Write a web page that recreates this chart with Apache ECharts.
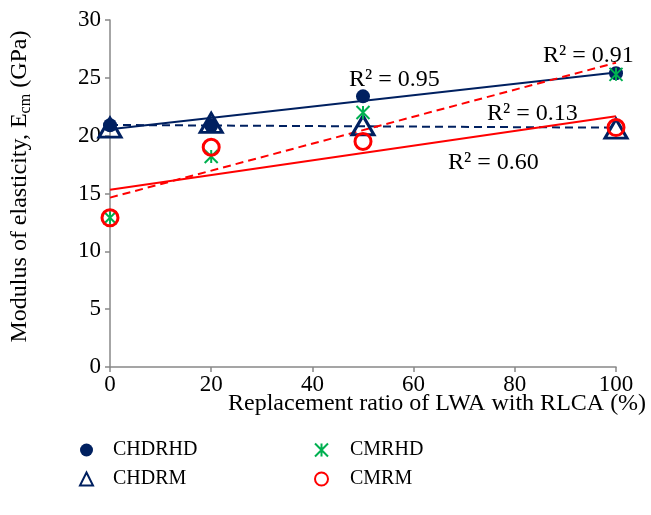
<!DOCTYPE html>
<html>
<head>
<meta charset="utf-8">
<script src="https://cdn.jsdelivr.net/npm/echarts@6/dist/echarts.min.js"></script>
<style>
  html, body { margin: 0; padding: 0; background: #fff; }
  #chart { width: 651px; height: 515px; }
</style>
</head>
<body>
<div id="chart"></div>
<script>
// replacement ratio (%)
const ratios = [0, 20, 50, 100]
// modulus of elasticity (GPa)
const chdrhd = [20.9, 20.85, 23.4, 25.4]
const chdrm = [20.7, 21.1, 20.9, 20.6]
const cmrhd = [12.9, 18.2, 22.0, 25.3]
const cmrm = [12.9, 19.0, 19.5, 20.7]
const r2Labels = ['R² = 0.95', 'R² = 0.13', 'R² = 0.91', 'R² = 0.60']
const xTicks = [0, 20, 40, 60, 80, 100]
const yTicks = [0, 5, 10, 15, 20, 25, 30]

const FONT = '"Liberation Serif", "Times New Roman", serif'
const NAVY = '#002060'
const RED = '#FF0000'
const GREEN = '#00B050'

// least squares trendline, evaluated at the axis ends
const trend = (xs, ys) => {
  const n = xs.length
  const mx = xs.reduce((a, b) => a + b, 0) / n
  const my = ys.reduce((a, b) => a + b, 0) / n
  let sxy = 0, sxx = 0
  xs.forEach((x, i) => { sxy += (x - mx) * (ys[i] - my); sxx += (x - mx) * (x - mx) })
  const k = sxy / sxx
  const b = my - k * mx
  const x0 = xTicks[0], x1 = xTicks[xTicks.length - 1]
  return [[x0, b + k * x0], [x1, b + k * x1]]
}
const pts = ys => ratios.map((x, i) => [x, ys[i]])

const chart = echarts.init(document.getElementById('chart'))

const trendSeries = (name, ys, color, dashed) => ({
  name: name,
  type: 'line',
  data: trend(ratios, ys),
  showSymbol: false,
  silent: true,
  z: 1,
  lineStyle: { color: color, width: 2, type: dashed ? [8, 5] : 'solid' }
})

const asterisk = 'path://M0,0L10,10M10,0L0,10M5,0L5,10'
const plainText = (text, left, top) => ({
  type: 'text', left: left, top: top,
  style: { text: text, font: '24px ' + FONT, fill: '#000' }
})

const legendBox = (names, left, pad) => ({
  data: names,
  orient: 'vertical',
  left: left,
  top: 435,
  itemGap: 9,
  itemWidth: 13,
  itemHeight: 13,
  textStyle: { fontSize: 20, fontFamily: FONT, color: '#000', padding: [0, 0, 0, pad] }
})

const option = {
  animation: false,
  textStyle: { fontFamily: FONT, color: '#000' },
  grid: { left: 109, right: 35, top: 20, bottom: 148 },
  xAxis: {
    type: 'value',
    min: xTicks[0],
    max: xTicks[xTicks.length - 1],
    interval: 20,
    splitLine: { show: false },
    axisLine: { lineStyle: { color: '#888', width: 1.5 } },
    axisTick: { show: true, length: 5, lineStyle: { color: '#888', width: 1.5 } },
    axisLabel: { fontSize: 23, color: '#000', fontFamily: FONT, margin: 6 }
  },
  yAxis: {
    type: 'value',
    min: yTicks[0],
    max: yTicks[yTicks.length - 1],
    interval: 5,
    splitLine: { show: false },
    axisLine: { show: true, lineStyle: { color: '#888', width: 1.5 } },
    axisTick: { show: true, length: 5, lineStyle: { color: '#888', width: 1.5 } },
    axisLabel: { fontSize: 23, color: '#000', fontFamily: FONT, margin: 9 },
    name: '{a|Modulus of elasticity, E}{b|cm}{a| (GPa)}',
    nameLocation: 'middle',
    nameRotate: 90,
    nameGap: 76,
    nameTextStyle: {
      padding: [0, 0, 0, 14],
      rich: {
        a: { fontSize: 24, fontFamily: FONT, color: '#000' },
        b: { fontSize: 16, fontFamily: FONT, color: '#000', padding: [12, 0, 0, 0] }
      }
    }
  },
  legend: [
    legendBox(['CHDRHD', 'CHDRM'], 74, 15),
    legendBox(['CMRHD', 'CMRM'], 309, 17)
  ],
  graphic: [
    plainText('Replacement ratio of LWA with RLCA (%)', 228, 392),
    plainText(r2Labels[0], 349, 68),
    plainText(r2Labels[1], 487, 102),
    plainText(r2Labels[2], 543, 44),
    plainText(r2Labels[3], 448, 151)
  ],
  series: [
    trendSeries('CHDRHD trend', chdrhd, NAVY, false),
    trendSeries('CHDRM trend', chdrm, NAVY, true),
    trendSeries('CMRHD trend', cmrhd, RED, true),
    trendSeries('CMRM trend', cmrm, RED, false),
    {
      name: 'CHDRHD',
      type: 'scatter',
      data: pts(chdrhd),
      symbol: 'circle',
      symbolSize: 14,
      z: 3,
      itemStyle: { color: NAVY, opacity: 1 }
    },
    {
      name: 'CHDRM',
      type: 'scatter',
      data: pts(chdrm),
      symbol: 'triangle',
      symbolSize: [22, 19],
      z: 4,
      itemStyle: { color: 'rgba(255,255,255,0)', borderColor: NAVY, borderWidth: 3, opacity: 1 }
    },
    {
      name: 'CMRHD',
      type: 'scatter',
      data: pts(cmrhd),
      symbol: asterisk,
      symbolSize: 13,
      z: 5,
      itemStyle: { color: 'rgba(255,255,255,0)', borderColor: GREEN, borderWidth: 2, opacity: 1 }
    },
    {
      name: 'CMRM',
      type: 'scatter',
      data: pts(cmrm),
      symbol: 'circle',
      symbolSize: 16,
      z: 6,
      itemStyle: { color: 'rgba(255,255,255,0)', borderColor: RED, borderWidth: 3, opacity: 1 }
    }
  ]
}

chart.setOption(option)
</script>
</body>
</html>
